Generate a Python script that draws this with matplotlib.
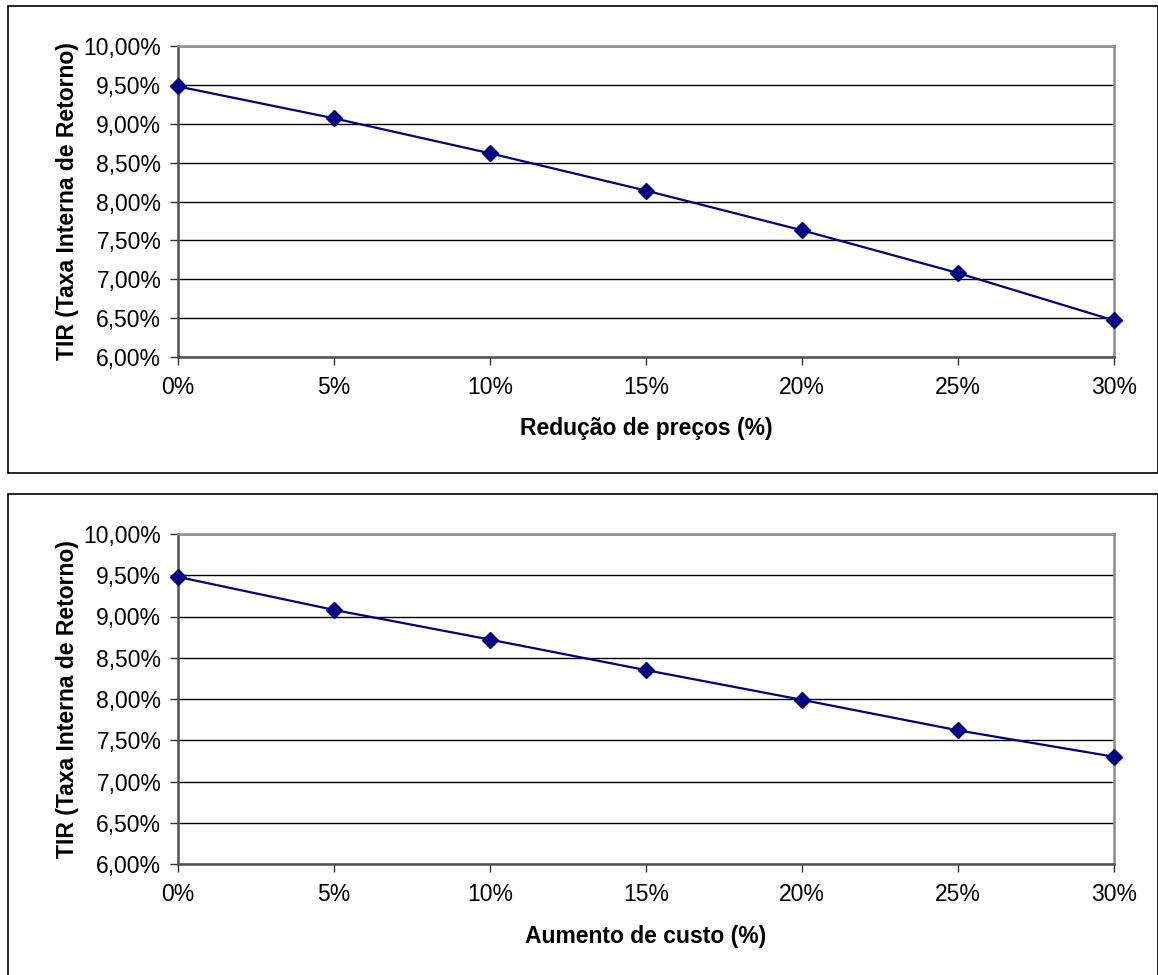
import matplotlib
matplotlib.use("Agg")
import matplotlib.pyplot as plt
from matplotlib.patches import Rectangle
from matplotlib.ticker import FuncFormatter, MultipleLocator

plt.rcParams['font.family'] = ['Liberation Sans', 'DejaVu Sans']

# Sensitivity of the internal rate of return (TIR)
variacao = [0, 5, 10, 15, 20, 25, 30]                      # % change
tir_reducao_precos = [9.48, 9.07, 8.62, 8.14, 7.63, 7.08, 6.47]
tir_aumento_custo = [9.48, 9.08, 8.72, 8.35, 7.99, 7.62, 7.30]
xlabel_precos = "Redução de preços (%)"
xlabel_custo = "Aumento de custo (%)"
ylabel = "TIR (Taxa Interna de Retorno)"

W, H = 1158, 975
fig = plt.figure(figsize=(W / 100, H / 100), dpi=100)


def fx(px):
    return px / W


def fy(py):
    return 1 - py / H


def panel(box, area, y, xlabel):
    bx0, by0, bx1, by1 = box
    fig.add_artist(Rectangle((fx(bx0), fy(by1)), fx(bx1 - bx0), (by1 - by0) / H,
                             transform=fig.transFigure, fill=False,
                             edgecolor='black', linewidth=1.2))
    x0, y0, x1, y1 = area
    ax = fig.add_axes([fx(x0), fy(y1), fx(x1 - x0), (y1 - y0) / H])
    ax.set_xlim(0, 30)
    ax.set_ylim(6.0, 10.0)
    ax.yaxis.set_major_locator(MultipleLocator(0.5))
    ax.set_xticks(variacao)
    ax.xaxis.set_major_formatter(FuncFormatter(lambda v, p: f"{v:.0f}%"))
    ax.yaxis.set_major_formatter(
        FuncFormatter(lambda v, p: f"{v:.2f}%".replace('.', ',')))
    ax.grid(axis='y', color='black', linewidth=1.0, zorder=1)
    ax.set_axisbelow(True)
    for s in ('top', 'right'):
        ax.spines[s].set_color('#8c8c8c')
        ax.spines[s].set_linewidth(1.8)
    for s in ('left', 'bottom'):
        ax.spines[s].set_color('#505050')
        ax.spines[s].set_linewidth(1.8)
    ax.tick_params(axis='both', direction='out', length=6, width=1.0,
                   color='#303030', labelsize=16.5, pad=6)
    ax.tick_params(axis='x', pad=8)
    ax.plot(variacao, y, color='#000080', linewidth=1.6, marker='D',
            markersize=8.5, markerfacecolor='#000080',
            markeredgecolor='#000080', clip_on=False, zorder=3)
    ax.set_xlabel(xlabel, fontsize=16.5, fontweight='bold', labelpad=13)
    ax.set_ylabel(ylabel, fontsize=16.5, fontweight='bold', labelpad=3)
    return ax


panel((8, 6, 1158, 473), (178, 46, 1114, 357), tir_reducao_precos, xlabel_precos)
panel((8, 494, 1158, 990), (178, 534, 1114, 864), tir_aumento_custo, xlabel_custo)

fig.savefig("out.png", dpi=100, facecolor='white')
